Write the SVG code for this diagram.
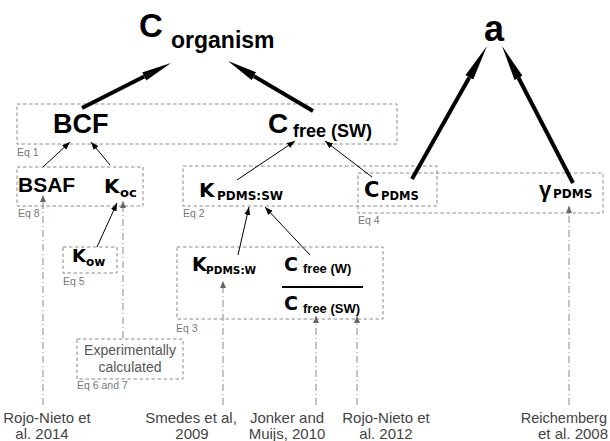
<svg xmlns="http://www.w3.org/2000/svg" width="610" height="441" viewBox="0 0 610 441">
<defs>
<style>
.box{fill:none;stroke:#8a8a8a;stroke-width:1;stroke-dasharray:3.5,2.5}
.eq{font-family:"Liberation Sans",Arial,sans-serif;font-size:10.5px;fill:#777}
.ref{font-family:"Liberation Sans",Arial,sans-serif;font-size:15px;fill:#444;text-anchor:middle}
.big{font-family:"Liberation Sans",Arial,sans-serif;font-weight:bold;fill:#000}
.vb{font-family:"DejaVu Sans",Verdana,sans-serif;font-weight:bold;fill:#000}
.thick{stroke:#000;stroke-width:4;fill:none;marker-end:url(#bigHead)}
.thick2{stroke:#000;stroke-width:4;fill:none;marker-end:url(#bigHead2)}
.thin{stroke:#000;stroke-width:1;fill:none;marker-end:url(#thinHead)}
.dd{stroke:#888;stroke-width:1;fill:none;stroke-dasharray:7,3,1,3;marker-end:url(#grayHead)}
</style>
<marker id="bigHead" markerUnits="userSpaceOnUse" viewBox="0 0 30 10" markerWidth="30" markerHeight="10" refX="0" refY="5" orient="auto"><path d="M0,0.5 L30,5 L0,9.5 z" fill="#000"/></marker>
<marker id="bigHead2" markerUnits="userSpaceOnUse" viewBox="0 0 36 10" markerWidth="36" markerHeight="10" refX="0" refY="5" orient="auto"><path d="M0,0.5 L36,5 L0,9.5 z" fill="#000"/></marker>
<marker id="thinHead" markerUnits="userSpaceOnUse" viewBox="0 0 8 6" markerWidth="8" markerHeight="6" refX="8" refY="3" orient="auto"><path d="M0,0 L8,3 L0,6 z" fill="#000"/></marker>
<marker id="grayHead" markerUnits="userSpaceOnUse" viewBox="0 0 7 6" markerWidth="7" markerHeight="6" refX="7" refY="3" orient="auto"><path d="M0,0 L7,3 L0,6 z" fill="#666"/></marker>
</defs>
<rect width="610" height="441" fill="#fff"/>

<g id="boxes">
<rect class="box" x="17" y="104" width="380" height="40"/>
<rect class="box" x="17" y="167" width="126" height="39"/>
<rect class="box" x="63" y="247" width="54" height="26"/>
<rect class="box" x="183" y="166" width="254" height="40"/>
<rect class="box" x="358" y="173" width="245" height="40"/>
<rect class="box" x="177" y="247" width="206" height="72"/>
<rect class="box" x="77" y="339" width="106" height="40"/>
<text class="eq" x="17" y="156">Eq 1</text>
<text class="eq" x="18" y="217">Eq 8</text>
<text class="eq" x="63" y="285">Eq 5</text>
<text class="eq" x="183" y="217">Eq 2</text>
<text class="eq" x="358" y="224">Eq 4</text>
<text class="eq" x="176" y="332">Eq 3</text>
<text class="eq" x="77" y="389">Eq 6 and 7</text>
</g>

<g id="connectors">
<line class="thick" x1="82" y1="108" x2="144.2" y2="76.5"/>
<line class="thick" x1="313" y1="111" x2="253.9" y2="76.2"/>
<line class="thick2" x1="412" y1="179" x2="469.3" y2="77.4"/>
<line class="thick2" x1="573" y1="183" x2="518.6" y2="78"/>
<line class="thin" x1="43" y1="167" x2="70" y2="142"/>
<line class="thin" x1="110" y1="165" x2="91" y2="142"/>
<line class="thin" x1="97" y1="247" x2="117" y2="203"/>
<line class="thin" x1="237" y1="180" x2="295" y2="141"/>
<line class="thin" x1="372" y1="177" x2="325" y2="141"/>
<line class="thin" x1="238" y1="255" x2="249" y2="207"/>
<line class="thin" x1="310" y1="255" x2="265" y2="207"/>
<line class="dd" x1="43" y1="405" x2="43" y2="195"/>
<line class="dd" x1="123" y1="338" x2="123" y2="201"/>
<line class="dd" x1="223" y1="405" x2="223" y2="281"/>
<line class="dd" x1="316" y1="405" x2="316" y2="316"/>
<line class="dd" x1="357" y1="405" x2="357" y2="316"/>
<line class="dd" x1="569" y1="405" x2="569" y2="206"/>
</g>

<g id="n-corganism">
<text class="big" x="139" y="37" font-size="33">C</text>
<text class="big" x="171" y="48" font-size="23">organism</text>
</g>
<g id="n-a">
<text class="big" x="494" y="41" font-size="36" text-anchor="middle">a</text>
</g>
<g id="n-bcf">
<text class="big" x="53" y="133" font-size="27">BCF</text>
</g>
<g id="n-cfree-sw">
<text class="big" x="268" y="133" font-size="28">C</text>
<text class="big" x="293" y="137" font-size="18">free (SW)</text>
</g>
<g id="n-bsaf">
<text class="big" x="18" y="192" font-size="21">BSAF</text>
</g>
<g id="n-koc">
<text class="vb" x="104" y="193" font-size="20">K</text>
<text class="vb" x="120" y="197" font-size="13">oc</text>
</g>
<g id="n-kow">
<text class="vb" x="72" y="262" font-size="18">K</text>
<text class="vb" x="86" y="266" font-size="12">ow</text>
</g>
<g id="n-kpdms-sw">
<text class="vb" x="199" y="197" font-size="20">K</text>
<text class="vb" x="217" y="200" font-size="12">PDMS:SW</text>
</g>
<g id="n-cpdms">
<text class="vb" x="364" y="197" font-size="21">C</text>
<text class="vb" x="381" y="200" font-size="11.5">PDMS</text>
</g>
<g id="n-gamma">
<text x="539" y="197" font-family="Liberation Sans, Arial, sans-serif" font-weight="bold" font-size="22">γ</text>
<text class="vb" x="553" y="198" font-size="12">PDMS</text>
</g>
<g id="n-kpdms-w">
<text class="vb" x="192" y="271" font-size="19">K</text>
<text class="vb" x="206" y="274" font-size="10.5">PDMS:W</text>
</g>
<g id="n-ratio">
<text class="vb" x="284" y="271" font-size="19">C</text>
<text class="big" x="303" y="273" font-size="13">free (W)</text>
<line x1="282" y1="287" x2="363" y2="287" stroke="#000" stroke-width="2"/>
<text class="vb" x="284" y="310" font-size="19">C</text>
<text class="big" x="303" y="313" font-size="13">free (SW)</text>
</g>
<g id="n-exp">
<text x="130" y="355" font-family="Liberation Sans, Arial, sans-serif" font-size="14" fill="#555" text-anchor="middle">Experimentally</text>
<text x="130" y="372" font-family="Liberation Sans, Arial, sans-serif" font-size="14" fill="#555" text-anchor="middle">calculated</text>
</g>
<g id="refs">
<text class="ref" x="47" y="423">Rojo-Nieto et</text>
<text class="ref" x="42" y="439">al. 2014</text>
<text class="ref" x="191" y="423">Smedes et al,</text>
<text class="ref" x="192" y="439">2009</text>
<text class="ref" x="287" y="423">Jonker and</text>
<text class="ref" x="287" y="439">Muijs, 2010</text>
<text class="ref" x="386" y="423">Rojo-Nieto et</text>
<text class="ref" x="386" y="439">al. 2012</text>
<text class="ref" x="607" y="423" style="text-anchor:end;font-size:14.5px">Reichemberg</text>
<text class="ref" x="573" y="439">et al. 2008</text>
</g>
</svg>
